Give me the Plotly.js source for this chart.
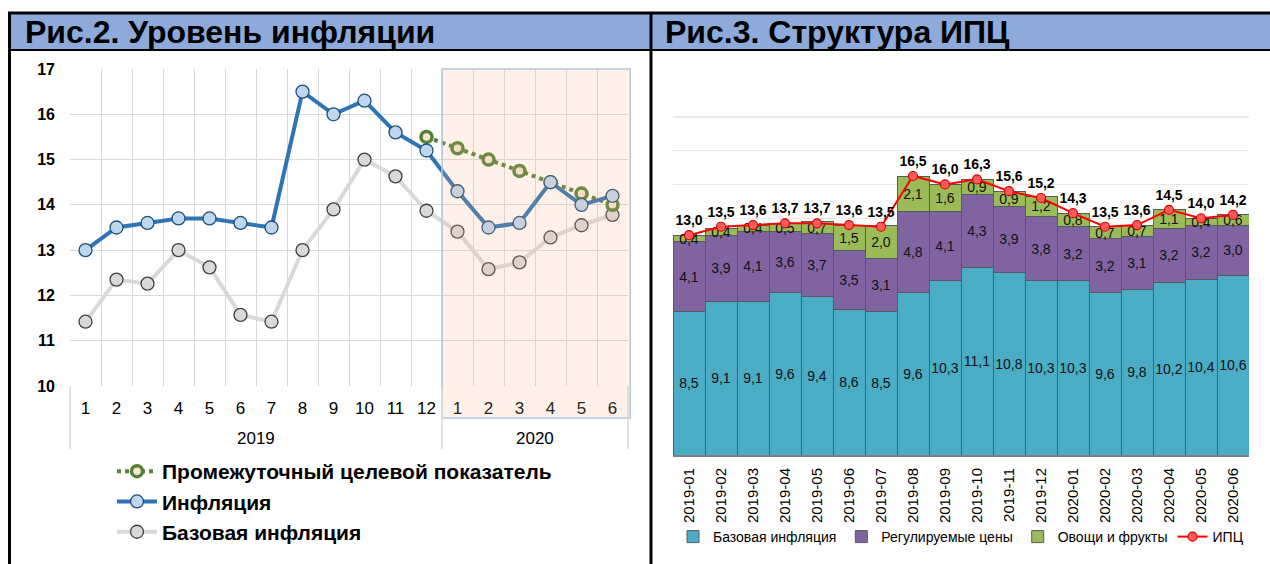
<!DOCTYPE html>
<html>
<head>
<meta charset="utf-8">
<script src="https://cdn.plot.ly/plotly-3.0.1.min.js"></script>
<style>
html,body{margin:0;padding:0;background:#fff;}
#chart{width:1270px;height:564px;}
</style>
</head>
<body>
<div id="chart"></div>
<script>
// ---------- Data: left chart (Рис.2) ----------
const years = ['2019', '2020'];
const monthsPerYear = [12, 6];
const monthLabels = ['1','2','3','4','5','6','7','8','9','10','11','12','1','2','3','4','5','6'];
const inflation = [13.0, 13.5, 13.6, 13.7, 13.7, 13.6, 13.5, 16.5, 16.0, 16.3, 15.6, 15.2,
                   14.3, 13.5, 13.6, 14.5, 14.0, 14.2];
const baseInflation = [11.42, 12.35, 12.26, 13.0, 12.62, 11.57, 11.42, 13.0, 13.9, 15.0, 14.63, 13.87,
                       13.41, 12.58, 12.73, 13.28, 13.55, 13.78];
const targetValues = [15.5, 15.25, 15.0, 14.75, 14.5, 14.25, 14.0];
const targetStartIndex = 11;

// ---------- Data: right chart (Рис.3) ----------
const periods = ['2019-01','2019-02','2019-03','2019-04','2019-05','2019-06','2019-07','2019-08','2019-09',
                 '2019-10','2019-11','2019-12','2020-01','2020-02','2020-03','2020-04','2020-05','2020-06'];
const coreCPI = [8.5, 9.1, 9.1, 9.6, 9.4, 8.6, 8.5, 9.6, 10.3, 11.1, 10.8, 10.3, 10.3, 9.6, 9.8, 10.2, 10.4, 10.6];
const regulated = [4.1, 3.9, 4.1, 3.6, 3.7, 3.5, 3.1, 4.8, 4.1, 4.3, 3.9, 3.8, 3.2, 3.2, 3.1, 3.2, 3.2, 3.0];
const vegFruit = [0.4, 0.4, 0.4, 0.5, 0.7, 1.5, 2.0, 2.1, 1.6, 0.9, 0.9, 1.2, 0.8, 0.7, 0.7, 1.1, 0.4, 0.6];
const cpi = [13.0, 13.5, 13.6, 13.7, 13.7, 13.6, 13.5, 16.5, 16.0, 16.3, 15.6, 15.2, 14.3, 13.5, 13.6, 14.5, 14.0, 14.2];

// ---------- Build unique category keys for left chart ----------
const yearOfPoint = [];
years.forEach((y, i) => { for (let k = 0; k < monthsPerYear[i]; k++) yearOfPoint.push(y); });
const catKeys = monthLabels.map((m, i) => yearOfPoint[i] + '-' + m);
const xTarget = catKeys.slice(targetStartIndex, targetStartIndex + targetValues.length);
const nCat = monthLabels.length;

const W = 1270, H = 564;
const px = v => v / W;
const py = v => 1 - v / H;
const FONT = 'Liberation Sans, Arial, sans-serif';

const barText = {family: FONT, size: 14, color: '#111'};

const traces = [
  { // base inflation (drawn first)
    type: 'scatter', mode: 'lines+markers', name: 'Базовая инфляция',
    x: catKeys, y: baseInflation, xaxis: 'x', yaxis: 'y',
    line: {color: '#D9D9D9', width: 4},
    marker: {size: 13, color: '#D9D9D9', line: {color: '#404040', width: 1.3}},
    legend: 'legend', legendrank: 3, legendgroup: 'g3'
  },
  {
    type: 'scatter', mode: 'lines+markers', name: 'Промежуточный целевой показатель',
    x: xTarget, y: targetValues, xaxis: 'x', yaxis: 'y',
    line: {color: '#548235', width: 4, dash: 'dot'},
    marker: {size: 11, color: '#FBE5D6', line: {color: '#548235', width: 3.5}},
    legend: 'legend', legendrank: 1, legendgroup: 'g1'
  },
  {
    type: 'scatter', mode: 'lines+markers', name: 'Инфляция',
    x: catKeys, y: inflation, xaxis: 'x', yaxis: 'y',
    line: {color: '#2E75B6', width: 4},
    marker: {size: 13, color: '#BDD7EE', line: {color: '#1F4E79', width: 1.3}},
    legend: 'legend', legendrank: 2, legendgroup: 'g2'
  },
  // right chart
  {
    type: 'bar', name: 'Базовая инфляция', x: periods, y: coreCPI, xaxis: 'x2', yaxis: 'y2',
    marker: {color: '#4BACC6', line: {color: '#595959', width: 1}},
    texttemplate: '%{y:.1f}', textposition: 'inside', insidetextanchor: 'middle',
    textangle: 0, constraintext: 'none', textfont: barText, legend: 'legend2'
  },
  {
    type: 'bar', name: 'Регулируемые цены', x: periods, y: regulated, xaxis: 'x2', yaxis: 'y2',
    marker: {color: '#8064A2', line: {color: '#595959', width: 1}},
    texttemplate: '%{y:.1f}', textposition: 'inside', insidetextanchor: 'middle',
    textangle: 0, constraintext: 'none', textfont: barText, legend: 'legend2'
  },
  {
    type: 'bar', name: 'Овощи и фрукты', x: periods, y: vegFruit, xaxis: 'x2', yaxis: 'y2',
    marker: {color: '#9BBB59', line: {color: '#595959', width: 1}},
    texttemplate: '%{y:.1f}', textposition: 'inside', insidetextanchor: 'middle',
    textangle: 0, constraintext: 'none', textfont: barText, legend: 'legend2'
  },
  {
    type: 'scatter', mode: 'lines+markers+text', name: 'ИПЦ', x: periods, y: cpi, xaxis: 'x2', yaxis: 'y2',
    line: {color: '#FF0000', width: 2},
    marker: {size: 9, color: '#FF5B5B', line: {color: '#E00000', width: 1.2}},
    texttemplate: '<b>%{y:.1f}</b>', textposition: 'top center',
    textfont: {family: FONT, size: 14, color: '#000'}, legend: 'legend2', cliponaxis: false
  }
];

const shapes = [
  // header band
  {type: 'rect', xref: 'paper', yref: 'paper', x0: px(9), x1: 1, y0: py(50), y1: py(13),
   fillcolor: '#8EAADB', line: {width: 0}, layer: 'below'},
  {type: 'line', xref: 'paper', yref: 'paper', x0: px(8), x1: 1, y0: py(13), y1: py(13),
   line: {color: '#000', width: 3}},
  {type: 'line', xref: 'paper', yref: 'paper', x0: px(8), x1: 1, y0: py(50), y1: py(50),
   line: {color: '#000', width: 2}},
  {type: 'line', xref: 'paper', yref: 'paper', x0: px(9.5), x1: px(9.5), y0: py(12), y1: 0,
   line: {color: '#000', width: 3}},
  {type: 'line', xref: 'paper', yref: 'paper', x0: px(651), x1: px(651), y0: py(12), y1: 0,
   line: {color: '#000', width: 3}},
  // 2020 shaded zone
  {type: 'rect', xref: 'x domain', yref: 'paper', x0: 12/18, x1: 1.004, y0: py(418), y1: py(69),
   fillcolor: 'rgba(244,177,131,0.18)', line: {color: '#B4C6DC', width: 1.5}, layer: 'above'}
];

const annotations = [
  {xref: 'paper', yref: 'paper', x: px(23), y: py(32), xanchor: 'left', yanchor: 'middle',
   text: '<b>Рис.2. Уровень инфляции</b>', showarrow: false,
   font: {family: FONT, size: 32, color: '#000'}},
  {xref: 'paper', yref: 'paper', x: px(663), y: py(32), xanchor: 'left', yanchor: 'middle',
   text: '<b>Рис.3. Структура ИПЦ</b>', showarrow: false,
   font: {family: FONT, size: 32, color: '#000'}}
];

// year group labels and dividers (positions from monthsPerYear)
let start = 0;
shapes.push({type: 'line', xref: 'x domain', yref: 'paper', x0: 0, x1: 0, y0: py(449), y1: py(386),
             line: {color: '#D9D9D9', width: 1.5}});
years.forEach((y, i) => {
  const end = start + monthsPerYear[i];
  annotations.push({xref: 'x domain', yref: 'paper', x: (start + end) / 2 / nCat, y: py(438),
    xanchor: 'center', yanchor: 'middle', text: y, showarrow: false,
    font: {family: FONT, size: 17, color: '#000'}});
  shapes.push({type: 'line', xref: 'x domain', yref: 'paper', x0: end / nCat, x1: end / nCat,
    y0: py(449), y1: py(386), line: {color: '#D9D9D9', width: 1.5}});
  start = end;
});

const layout = {
  width: W, height: H,
  margin: {l: 0, r: 0, t: 0, b: 0, pad: 0},
  paper_bgcolor: '#fff', plot_bgcolor: 'rgba(0,0,0,0)',
  separators: ', ',
  font: {family: FONT, color: '#000'},
  barmode: 'stack', bargap: 0,
  xaxis: {
    type: 'category', domain: [px(70), px(628)], anchor: 'y',
    categoryorder: 'array', categoryarray: catKeys,
    range: [-0.5, nCat - 0.5], autorange: false,
    tickmode: 'array', tickvals: catKeys, ticktext: monthLabels,
    showgrid: true, gridcolor: '#D9D9D9', gridwidth: 1, tickson: 'boundaries',
    ticks: '', showline: false, zeroline: false, ticklabelstandoff: 10,
    tickfont: {family: FONT, size: 17, color: '#000'}, automargin: false
  },
  yaxis: {
    domain: [py(386), py(69)], anchor: 'x', range: [10, 17], dtick: 1,
    showgrid: true, gridcolor: '#D9D9D9', gridwidth: 1, zeroline: false,
    ticks: '', ticklabelstandoff: 14, showline: false,
    tickfont: {family: FONT, size: 16, color: '#000', weight: 'bold'}, automargin: false
  },
  xaxis2: {
    domain: [px(673), px(1249)], anchor: 'y2', type: 'category',
    range: [-0.5, periods.length - 0.5], autorange: false,
    tickangle: -90, ticks: '', showgrid: false, ticklabelstandoff: 5,
    showline: true, linecolor: '#7F7F7F', linewidth: 2,
    tickfont: {family: FONT, size: 15, color: '#000'}, automargin: false
  },
  yaxis2: {
    domain: [py(455), py(83)], anchor: 'x2', range: [0, 22], dtick: 2,
    showgrid: true, gridcolor: '#E8E8E8', gridwidth: 1.5, zeroline: false,
    showticklabels: false, ticks: '', automargin: false
  },
  legend: {
    x: px(112), y: py(451), xanchor: 'left', yanchor: 'top',
    orientation: 'v', traceorder: 'grouped', tracegroupgap: 0,
    font: {family: FONT, size: 21, color: '#000', weight: 'bold'},
    bgcolor: 'rgba(0,0,0,0)', itemwidth: 40
  },
  legend2: {
    x: px(961), y: py(537), xanchor: 'center', yanchor: 'middle',
    orientation: 'h', traceorder: 'normal', font: {family: FONT, size: 14, color: '#000'},
    bgcolor: 'rgba(0,0,0,0)', itemwidth: 30
  },
  shapes: shapes,
  annotations: annotations,
  showlegend: true
};

Plotly.newPlot('chart', traces, layout, {displayModeBar: false, staticPlot: true});
</script>
</body>
</html>
